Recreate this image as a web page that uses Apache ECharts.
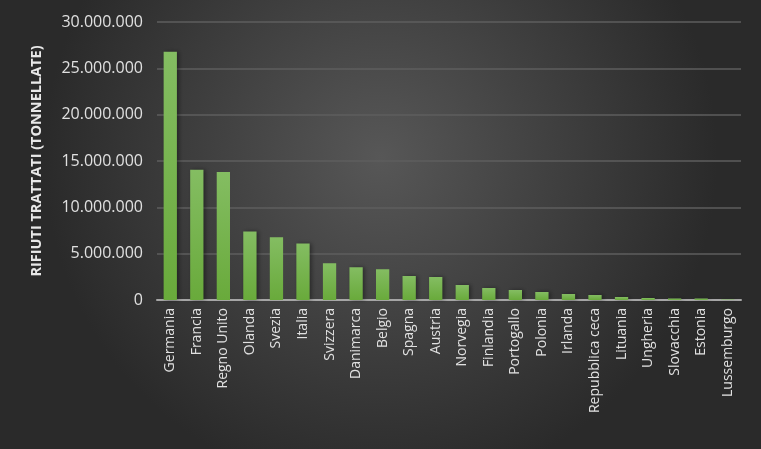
<!DOCTYPE html>
<html>
<head>
<meta charset="utf-8">
<script src="https://cdn.jsdelivr.net/npm/echarts@6/dist/echarts.min.js"></script>
<style>
  html, body { margin: 0; padding: 0; }
  #chart { width: 761px; height: 449px; }
</style>
</head>
<body>
<div id="chart"></div>
<script>
const countries = ['Germania', 'Francia', 'Regno Unito', 'Olanda', 'Svezia', 'Italia', 'Svizzera',
  'Danimarca', 'Belgio', 'Spagna', 'Austria', 'Norvegia', 'Finlandia', 'Portogallo', 'Polonia',
  'Irlanda', 'Repubblica ceca', 'Lituania', 'Ungheria', 'Slovacchia', 'Estonia', 'Lussemburgo'];
const tonnes = [26800000, 14050000, 13800000, 7400000, 6760000, 6100000, 3970000,
  3540000, 3330000, 2580000, 2470000, 1610000, 1290000, 1070000, 860000,
  640000, 540000, 320000, 210000, 150000, 150000, 50000];
const yTicks = { min: 0, max: 30000000, interval: 5000000 };

const fmt = (v) => String(v).replace(/\B(?=(\d{3})+(?!\d))/g, '.');

const chart = echarts.init(document.getElementById('chart'));
chart.setOption({
  backgroundColor: {
    type: 'radial', x: 0.5, y: 0.35, r: 0.75,
    colorStops: [{ offset: 0, color: '#575757' }, { offset: 1, color: '#2a2a2a' }],
  },
  textStyle: { fontFamily: 'Open Sans, Liberation Sans, sans-serif' },
  grid: { left: 157, right: 20, top: 22, bottom: 149 },
  xAxis: {
    type: 'category',
    data: countries,
    axisLine: { lineStyle: { color: '#a6a6a6', width: 2 } },
    axisTick: { show: false },
    axisLabel: { rotate: 90, color: '#e0e0e0', fontSize: 14, interval: 0, margin: 8 },
  },
  yAxis: {
    type: 'value',
    min: yTicks.min,
    max: yTicks.max,
    interval: yTicks.interval,
    name: 'RIFIUTI TRATTATI (TONNELLATE)',
    nameLocation: 'middle',
    nameGap: 113,
    nameTextStyle: { color: '#e8e8e8', fontSize: 14.5, fontWeight: 'bold' },
    axisLine: { show: false },
    axisTick: { show: false },
    axisLabel: { color: '#e0e0e0', fontSize: 16, formatter: fmt, margin: 14 },
    splitLine: { lineStyle: { color: '#5e5e5e', width: 1.5 } },
  },
  series: [{
    type: 'bar',
    data: tonnes,
    barWidth: '50%',
    itemStyle: {
      color: new echarts.graphic.LinearGradient(0, 0, 0, 1, [
        { offset: 0, color: '#84bd62' },
        { offset: 1, color: '#69aa3b' },
      ]),
      shadowColor: 'rgba(0,0,0,0.4)',
      shadowBlur: 4,
      shadowOffsetX: 2,
    },
  }],
});
</script>
</body>
</html>
